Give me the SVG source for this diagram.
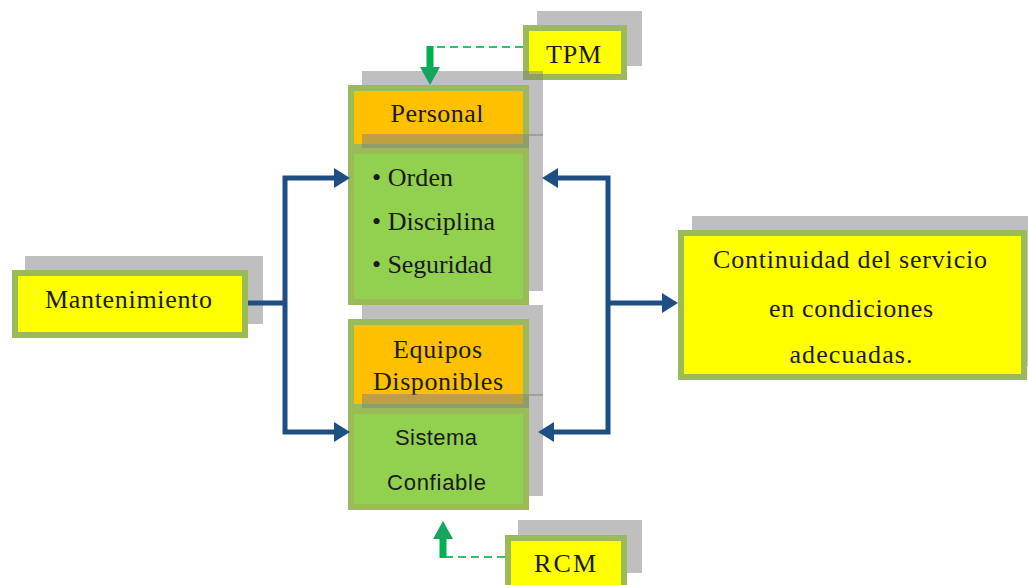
<svg xmlns="http://www.w3.org/2000/svg" width="1028" height="585" viewBox="0 0 1028 585">
<style>
.sh{fill:#808080;fill-opacity:0.5}
.y{fill:#ffff00;stroke:#9bbb59;stroke-width:6}
.o{fill:#ffc000;stroke:#9bbb59;stroke-width:6}
.g{fill:#92d050;stroke:#9bbb59;stroke-width:6}
.t{font-family:"Liberation Serif","Times New Roman",serif;font-size:26px;fill:#1a1a1a;text-anchor:middle}
.tl{font-family:"Liberation Serif","Times New Roman",serif;font-size:26px;fill:#1a1a1a}
.s{font-family:"Liberation Sans",Arial,sans-serif;font-size:22px;fill:#1a1a1a;text-anchor:middle}
.blue{fill:none;stroke:#1f4e85;stroke-width:5;stroke-linejoin:miter}
.dash{fill:none;stroke:#33c06a;stroke-width:2;stroke-dasharray:8,5}
.garr{fill:none;stroke:#00b050;stroke-width:7}
</style>
<defs>
<marker id="ab" viewBox="0 0 16 20" refX="1" refY="10" markerWidth="16" markerHeight="20" markerUnits="userSpaceOnUse" orient="auto">
<path d="M0,0 L16,10 L0,20 z" fill="#1f4e85"/>
</marker>
<marker id="ag" viewBox="0 0 18 20" refX="1" refY="10" markerWidth="18" markerHeight="20" markerUnits="userSpaceOnUse" orient="auto">
<path d="M0,0 L18,10 L0,20 z" fill="#14a55e"/>
</marker>
</defs>

<g id="tpm">
<rect class="sh" x="537" y="11" width="105" height="55"/>
<rect class="y" x="526" y="28" width="98" height="49"/>
<text class="t" x="573.5" y="63" textLength="55" lengthAdjust="spacing">TPM</text>
</g>

<g id="personal">
<rect class="sh" x="362" y="71" width="181" height="65"/>
<rect class="o" x="351" y="88" width="175" height="59"/>
<text class="t" x="437" y="122" textLength="93" lengthAdjust="spacing">Personal</text>
<rect class="sh" x="362" y="134" width="181" height="157"/>
<rect class="g" x="351" y="151" width="175" height="151"/>
<text class="tl" x="372" y="186" textLength="81" lengthAdjust="spacing">• Orden</text>
<text class="tl" x="372" y="230" textLength="123" lengthAdjust="spacing">• Disciplina</text>
<text class="tl" x="372" y="273" textLength="120" lengthAdjust="spacing">• Seguridad</text>
</g>

<g id="mantenimiento">
<rect class="sh" x="25" y="256" width="238" height="68"/>
<rect class="y" x="15" y="273" width="230" height="62"/>
<text class="t" x="128.5" y="308" textLength="167" lengthAdjust="spacing">Mantenimiento</text>
</g>

<g id="equipos">
<rect class="sh" x="362" y="305" width="181" height="91"/>
<rect class="o" x="351" y="322" width="175" height="85"/>
<text class="t" x="437.5" y="358" textLength="89" lengthAdjust="spacing">Equipos</text>
<text class="t" x="438" y="390" textLength="130" lengthAdjust="spacing">Disponibles</text>
<rect class="sh" x="362" y="394" width="181" height="102"/>
<rect class="g" x="351" y="411" width="175" height="96"/>
<text class="s" x="436" y="445" textLength="82" lengthAdjust="spacing">Sistema</text>
<text class="s" x="436.5" y="490" textLength="99" lengthAdjust="spacing">Confiable</text>
</g>

<g id="rcm">
<rect class="sh" x="518" y="520" width="124" height="53"/>
<rect class="y" x="508" y="538" width="116" height="55"/>
<text class="t" x="565" y="572" textLength="62" lengthAdjust="spacing">RCM</text>
</g>

<g id="continuidad">
<rect class="sh" x="692" y="216" width="340" height="150"/>
<rect class="y" x="681" y="233" width="343" height="144"/>
<text class="t" x="850" y="268" textLength="274" lengthAdjust="spacing">Continuidad del servicio</text>
<text class="t" x="851" y="317" textLength="164" lengthAdjust="spacing">en condiciones</text>
<text class="t" x="851" y="363" textLength="123" lengthAdjust="spacing">adecuadas.</text>
</g>

<g id="connectors">
<path class="blue" d="M248,303 H285"/>
<path class="blue" d="M285,303 V178 H335" marker-end="url(#ab)"/>
<path class="blue" d="M285,303 V432 H335" marker-end="url(#ab)"/>
<path class="blue" d="M608,303 V178 H557" marker-end="url(#ab)"/>
<path class="blue" d="M608,303 V432 H553" marker-end="url(#ab)"/>
<path class="blue" d="M608,303 H663" marker-end="url(#ab)"/>
<path class="dash" d="M523,47 H430"/>
<path class="garr" d="M430,46 V68" marker-end="url(#ag)"/>
<path class="dash" d="M505,557 H443"/>
<path class="garr" d="M443,558 V538" marker-end="url(#ag)"/>
</g>
</svg>
